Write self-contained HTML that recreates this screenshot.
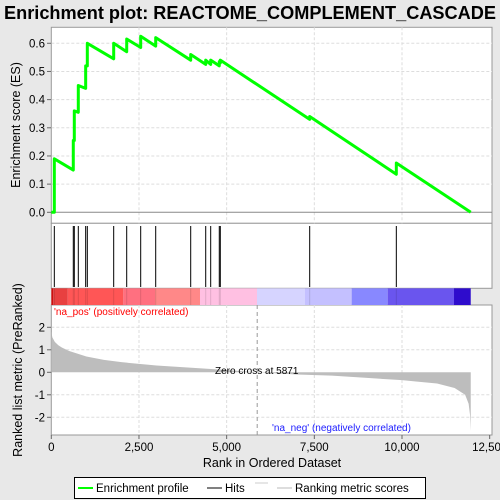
<!DOCTYPE html>
<html><head><meta charset="utf-8"><style>
html,body{margin:0;padding:0;background:#e8e8e8;}
svg{display:block;font-family:"Liberation Sans","DejaVu Sans",sans-serif;}
</style></head><body>
<svg id="c" width="500" height="500" viewBox="0 0 500 500">
<rect x="0" y="0" width="500" height="500" fill="#e8e8e8"/>
<text x="250" y="19" text-anchor="middle" font-size="18" font-weight="bold" textLength="492" lengthAdjust="spacingAndGlyphs">Enrichment plot: REACTOME_COMPLEMENT_CASCADE</text>
<rect x="51.3" y="27.3" width="440.7" height="196" fill="#fff" stroke="#999"/>
<rect x="51.3" y="223.3" width="440.7" height="65" fill="#fff" stroke="#999"/>
<rect x="51.3" y="305" width="440.7" height="130" fill="#fff" stroke="#999"/>
<g id="grid"></g>
<g id="bar"></g>
<g id="hits"></g>
<g id="metric"></g>
<path id="es" fill="none" stroke="#00ff00" stroke-width="3" stroke-linejoin="round"/>
<g id="axes" font-size="11.5"></g>
<text x="215" y="374" font-size="10">Zero cross at 5871</text>
<text x="54" y="315" font-size="10" fill="#ff0000">'na_pos' (positively correlated)</text>
<text x="272" y="431" font-size="10" fill="#2020ff">'na_neg' (negatively correlated)</text>
<text x="20" y="125" font-size="12.5" text-anchor="middle" transform="rotate(-90 20 125)">Enrichment score (ES)</text>
<text x="22" y="370" font-size="12.5" text-anchor="middle" transform="rotate(-90 22 370)">Ranked list metric (PreRanked)</text>
<text x="272" y="467" font-size="12.5" text-anchor="middle">Rank in Ordered Dataset</text>
<g>
<rect x="74.5" y="477.5" width="351" height="21" fill="#fff" stroke="#000"/>
<line x1="78" y1="488" x2="93" y2="488" stroke="#00ff00" stroke-width="2"/>
<text x="96" y="492" font-size="11.5">Enrichment profile</text>
<line x1="207" y1="488" x2="222" y2="488" stroke="#000" stroke-width="1"/>
<text x="225" y="492" font-size="11.5">Hits</text>
<line x1="255" y1="483" x2="268" y2="483" stroke="#ccc"/>
<line x1="277" y1="488" x2="292" y2="488" stroke="#bbb"/>
<text x="295" y="492" font-size="11.5">Ranking metric scores</text>
</g>
</svg>
<script>
const hitRanks=[86,627,656,770,980,1027,1779,2150,2549,2977,3975,4403,4545,4790,4819,7368,9838];
const esBefore=[0,0.15,0.255,0.355,0.44,0.52,0.545,0.57,0.585,0.59,0.54,0.525,0.525,0.52,0.53,0.33,0.135];
const esAfter=[0.19,0.255,0.36,0.45,0.52,0.60,0.60,0.615,0.625,0.62,0.56,0.54,0.54,0.535,0.54,0.34,0.175];
const endRank=11960;
const metricRanks=[0,30,100,200,300,500,700,1000,1500,2000,3000,4000,5000,5871,7000,8000,9000,10000,11000,11500,11800,11900,11940,11960];
const metricVals=[1.8,1.55,1.35,1.2,1.1,0.95,0.85,0.7,0.55,0.45,0.3,0.2,0.1,0,-0.1,-0.15,-0.25,-0.35,-0.5,-0.7,-1.0,-1.4,-1.9,-2.6];
const barStarts=[0,57,468,2053,2957,4240,5865,7234,8566,9593,11483];
const barEnds=[57,468,2053,2957,4240,5865,7234,8566,9593,11483,11960];
const barColors=["#cc1010","#e84040","#ff5656","#ff7080","#ff8888","#ffc0e2","#d6d4ff","#c4c0ff","#8888ff","#6a55ee","#2e0ccc"];
const xTicks=[0,2500,5000,7500,10000,12500];
const xTickLabels=["0","2,500","5,000","7,500","10,000","12,500"];
const esTicks=[0,0.1,0.2,0.3,0.4,0.5,0.6];
const esTickLabels=["0.0","0.1","0.2","0.3","0.4","0.5","0.6"];
const mTicks=[2,1,0,-1,-2];
const mTickLabels=["2","1","0","-1","-2"];

const NS="http://www.w3.org/2000/svg";
const X=r=>51.3+r*0.03507;
const YE=v=>212.3-v*281.7;
const YM=v=>372.3-v*22.5;
function mk(tag,attrs,parent){const e=document.createElementNS(NS,tag);for(const k in attrs)e.setAttribute(k,attrs[k]);parent.appendChild(e);return e;}
const grid=document.getElementById('grid'),axes=document.getElementById('axes');
xTicks.forEach((t,i)=>{
  if(t>0&&t<12500){
    [[27.3,223.3],[305,435]].forEach(p=>{const l=mk('line',{x1:X(t),x2:X(t),y1:p[0],y2:p[1],stroke:'#ddd','stroke-dasharray':'3,2'},grid);
    
    });
  }
  const tk=mk('line',{x1:X(t),x2:X(t),y1:435,y2:439,stroke:'#666'},axes);
  
  
  const tx=mk('text',{x:X(t),y:451,'text-anchor':'middle'},axes);tx.textContent=xTickLabels[i];
  
  
});
esTicks.forEach((t,i)=>{
  if(t>0){const g=mk('line',{x1:51.3,x2:492,y1:YE(t),y2:YE(t),stroke:'#ddd','stroke-dasharray':'3,2'},grid);
  
  }
  const tk=mk('line',{x1:47,x2:51.3,y1:YE(t),y2:YE(t),stroke:'#666'},axes);
  
  
  const tx=mk('text',{x:45,y:YE(t)+4,'text-anchor':'end'},axes);tx.textContent=esTickLabels[i];
  
  
});
const zl=mk('line',{x1:51.3,x2:492,y1:YE(0),y2:YE(0),stroke:'#888'},grid);


mTicks.forEach((t,i)=>{
  if(t!==0){const g=mk('line',{x1:51.3,x2:492,y1:YM(t),y2:YM(t),stroke:'#ddd','stroke-dasharray':'3,2'},grid);
  
  }
  const tk=mk('line',{x1:47,x2:51.3,y1:YM(t),y2:YM(t),stroke:'#666'},axes);
  
  
  const tx=mk('text',{x:45,y:YM(t)+4,'text-anchor':'end'},axes);tx.textContent=mTickLabels[i];
  
  
});
const zc=mk('line',{x1:X(5871),x2:X(5871),y1:305,y2:435,stroke:'#999','stroke-dasharray':'4,3'},grid);


// colour bar
const bar=document.getElementById('bar');
barStarts.forEach((s,i)=>{const r=mk('rect',{x:X(s),y:288.3,width:X(barEnds[i])-X(s),height:16.7,fill:barColors[i]},bar);

});
// hits
const hits=document.getElementById('hits');
hitRanks.forEach(r=>{const l=mk('line',{x1:X(r),x2:X(r),y1:226,y2:287,stroke:'#000','stroke-width':1},hits);


const b=mk('line',{x1:X(r),x2:X(r),y1:288.3,y2:305,stroke:'rgba(0,0,0,0.12)'},hits);

});
// metric area
let p='M'+X(metricRanks[0])+','+YM(0);
metricRanks.forEach((r,i)=>{p+=' L'+X(r)+','+YM(metricVals[i]);});
p+=' L'+X(metricRanks[metricRanks.length-1])+','+YM(0)+' Z';
const ma=mk('path',{d:p,fill:'#bdbdbd',stroke:'none'},document.getElementById('metric'));


// ES path
let e='M'+X(0)+','+YE(0);
hitRanks.forEach((r,i)=>{e+=' L'+X(r)+','+YE(esBefore[i])+' L'+X(r)+','+YE(esAfter[i]);});
e+=' L'+X(endRank)+','+YE(0);
document.getElementById('es').setAttribute('d',e);
</script>
</body></html>
